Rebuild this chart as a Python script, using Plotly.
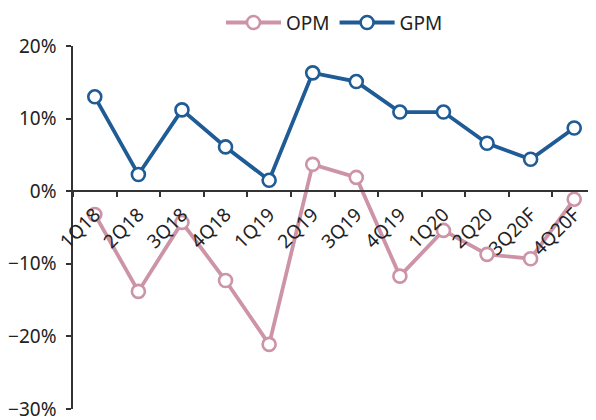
import plotly.graph_objects as go

categories = ["1Q18", "2Q18", "3Q18", "4Q18", "1Q19", "2Q19", "3Q19", "4Q19", "1Q20", "2Q20", "3Q20F", "4Q20F"]
opm = [-3.2, -13.8, -4.3, -12.3, -21.1, 3.7, 1.9, -11.7, -5.4, -8.7, -9.3, -1.1]
gpm = [13.0, 2.3, 11.2, 6.1, 1.5, 16.3, 15.1, 10.9, 10.9, 6.6, 4.4, 8.7]
y_ticks = [-30, -20, -10, 0, 10, 20]
y_labels = [("\u2212" if v < 0 else "") + f"{abs(v)}%" for v in y_ticks]

PINK = "#CD93A6"
BLUE = "#1F5B95"
FONT = "Noto Sans"

fig = go.Figure()
for name, vals, col in [("OPM", opm, PINK), ("GPM", gpm, BLUE)]:
    fig.add_trace(go.Scatter(
        x=categories, y=vals, name=name, mode="lines+markers",
        line=dict(color=col, width=3.8),
        marker=dict(symbol="circle", size=13, color="white", line=dict(color=col, width=2.6)),
        cliponaxis=False,
    ))

# page body has an 8px margin, so the figure is drawn at (8, 8)
fig.update_layout(
    width=588, height=412,
    margin=dict(l=65, r=0, t=38, b=11, autoexpand=False),
    paper_bgcolor="white", plot_bgcolor="white",
    font=dict(family=FONT, size=19, color="#222222"),
    showlegend=True,
    legend=dict(orientation="h", x=0.5, xanchor="center", y=1.012, yanchor="bottom",
                itemwidth=55, font=dict(size=19), bgcolor="rgba(0,0,0,0)"),
    xaxis=dict(
        type="category", range=[-0.5, 11.5],
        anchor="free", position=0.6, automargin=False,
        showline=True, linecolor="#333333", linewidth=1.5,
        ticks="outside", ticklen=5, tickcolor="#333333", tickwidth=1.5,
        tickson="boundaries", tickangle=-45, ticklabelstandoff=4,
        showgrid=False, zeroline=False,
        tickfont=dict(size=19),
    ),
    yaxis=dict(
        range=[-30, 20], tickvals=y_ticks, ticktext=y_labels, automargin=False,
        showline=True, linecolor="#333333", linewidth=1.5,
        ticks="outside", ticklen=5, tickcolor="#333333", tickwidth=1.5,
        ticklabelstandoff=6, ticklabeloverflow="allow",
        showgrid=False, zeroline=False,
        tickfont=dict(size=19),
    ),
)

fig.write_html("out.html")
